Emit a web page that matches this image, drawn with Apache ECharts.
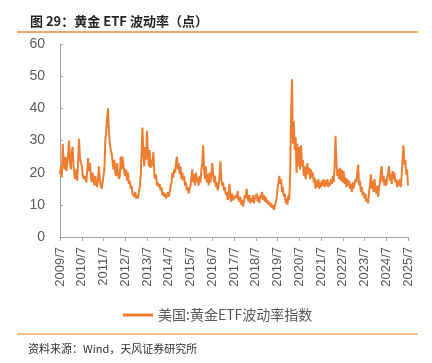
<!DOCTYPE html>
<html>
<head>
<meta charset="utf-8">
<script src="https://cdn.jsdelivr.net/npm/echarts@6/dist/echarts.min.js"></script>
<style>
html,body{margin:0;padding:0;background:#fff;}
#c{width:432px;height:363px;}
</style>
</head>
<body>
<div id="c"></div>
<script>
// Semi-monthly readings (1st and 16th), each array runs July -> June of next year
const v2009 = [19.5, 22, 18.5, 29, 23, 21, 25, 20.5, 22.5, 26, 30, 23.5, 21, 26.5, 28, 22, 19, 18, 21, 17.5, 23, 30.5, 24.5, 25];
const v2010 = [22, 19.5, 18, 17.5, 19, 17, 20.5, 24.5, 20.5, 23, 19, 17, 20, 18, 16, 19, 17, 15.5, 18, 22, 17.5, 16, 15, 17];
const v2011 = [16.5, 21, 30, 33, 37, 40, 33, 29, 27, 26, 23.5, 21, 24, 20, 19, 23, 19.5, 18, 19, 25, 21, 25, 22, 20];
const v2012 = [19, 21, 17.5, 20, 16.5, 17.5, 15, 16, 13.5, 13, 12.5, 14, 12, 13, 12, 14, 15.5, 19, 26, 34, 26, 22, 28, 24];
const v2013 = [33, 26, 22, 27, 21.5, 24, 22, 26.5, 20, 18, 19.5, 16, 17, 15.5, 16.5, 14.5, 15.5, 13, 14, 12.5, 13.5, 12, 13, 14];
const v2014 = [12.5, 14, 15.5, 17, 20, 18.5, 21, 20, 23, 25, 21, 23, 19.5, 22, 18, 20, 17.5, 19, 16, 17, 14.5, 15.5, 13.5, 15];
const v2015 = [16, 18.5, 21, 17, 19.5, 16, 20, 17, 18.5, 16, 19, 17, 21, 23, 28.5, 21, 18, 22, 17, 19.5, 16, 20, 17, 19];
const v2016 = [23, 20, 17, 19, 15.5, 17, 14.5, 16, 19, 23.5, 18, 16, 17, 14.5, 15.5, 13, 14, 11.5, 13, 16.5, 12, 11, 13.5, 11.5];
const v2017 = [12, 11, 13, 12, 14.3, 12, 11, 12.5, 10, 11.5, 9.5, 11, 13, 12, 15, 12.5, 11, 13, 10.5, 12, 11, 13, 10.5, 12];
const v2018 = [12, 13.5, 11, 12.5, 10.5, 13, 12, 14, 11.5, 13, 11, 12.5, 10.5, 11.5, 10, 11, 9.5, 10.5, 9, 10, 8.5, 9.5, 9, 12];
const v2019 = [15, 17, 19, 16.5, 18, 14, 15.5, 12.5, 13.5, 10.5, 12, 10, 13, 11.5, 20, 38, 49, 29, 36, 27, 31, 20, 29, 22];
const v2020 = [28, 21, 28.5, 22, 24, 19, 22, 18, 20.5, 23, 19.5, 21.5, 18, 21, 18.5, 20, 17, 18.5, 15, 17.5, 15.5, 18, 15, 17];
const v2021 = [15.5, 17.5, 16, 18, 15.5, 17.5, 16, 18, 15.5, 17, 16, 18, 16.5, 19, 17, 22, 31.5, 23, 19, 21, 18, 21.5, 17.5, 21];
const v2022 = [17, 20.5, 16.5, 18.5, 15.5, 18, 16, 17.5, 15, 16.5, 14, 17, 15, 16.5, 18, 17, 20, 22.5, 16, 17.5, 14, 15.5, 13, 14];
const v2023 = [12, 13.5, 11, 12, 10.5, 14, 16, 19.5, 15, 17.5, 14, 18, 15, 13.5, 16, 12.5, 15, 17, 20, 22, 17, 19, 16, 18];
const v2024 = [16, 18.5, 20, 22, 17.5, 19.5, 16.5, 20.5, 18, 20, 17, 18, 15.5, 17.5, 16, 18, 15.5, 19, 24, 28.5, 22.5, 24, 19.5, 21, 16];

const startYears = [2009, 2010, 2011, 2012, 2013, 2014, 2015, 2016, 2017, 2018, 2019, 2020, 2021, 2022, 2023, 2024];
const seriesName = '美国:黄金ETF波动率指数';

const values = [].concat(v2009, v2010, v2011, v2012, v2013, v2014, v2015, v2016,
  v2017, v2018, v2019, v2020, v2021, v2022, v2023, v2024);

const categories = [];
startYears.forEach(function (y) {
  for (let m = 7; m <= 18; m++) {
    const yy = m > 12 ? y + 1 : y;
    const mm = m > 12 ? m - 12 : m;
    categories.push(yy + '/' + mm + '/1');
    categories.push(yy + '/' + mm + '/16');
  }
});
categories.push('2025/7/1');

const chart = echarts.init(document.getElementById('c'), null, {renderer: 'canvas'});
const latin = '"Liberation Sans", "Noto Sans CJK SC", sans-serif';
const cjk = '"Noto Sans CJK SC", sans-serif';
chart.setOption({
  animation: false,
  backgroundColor: '#fff',
  title: {
    text: '图 29：黄金 ETF 波动率（点）',
    left: 25, top: 10,
    textStyle: {fontSize: 13, fontWeight: 'bold', color: '#262626', fontFamily: cjk}
  },
  legend: {
    data: [seriesName],
    left: 118, top: 303,
    icon: 'rect', itemWidth: 30, itemHeight: 3,
    textStyle: {fontSize: 14, color: '#595959', fontFamily: cjk}
  },
  grid: {left: 60, right: 24, top: 44, bottom: 126, containLabel: false},
  xAxis: {
    type: 'category',
    data: categories,
    boundaryGap: false,
    axisLine: {lineStyle: {color: '#A6A6A6', width: 1}},
    axisTick: {interval: 23, length: 4, lineStyle: {color: '#A6A6A6'}},
    axisLabel: {
      interval: 23, rotate: 90, fontSize: 13, color: '#595959', margin: 10,
      fontFamily: latin,
      formatter: function (v) { return v.replace(/\/\d+$/, ''); }
    },
    splitLine: {show: false}
  },
  yAxis: {
    type: 'value', min: 0, max: 60, interval: 10,
    axisLine: {show: true, lineStyle: {color: '#A6A6A6', width: 1}},
    axisTick: {show: true, inside: true, length: 3, lineStyle: {color: '#A6A6A6'}},
    axisLabel: {fontSize: 14, color: '#595959', margin: 15, fontFamily: latin},
    splitLine: {show: false}
  },
  series: [{
    name: seriesName,
    type: 'line',
    data: values,
    showSymbol: false,
    symbol: 'none',
    color: '#ED7D31',
    lineStyle: {color: '#ED7D31', width: 2}
  }],
  graphic: [
    {type: 'line', shape: {x1: 17, y1: 32, x2: 418, y2: 32}, style: {stroke: '#F28A2E', lineWidth: 1.5}},
    {type: 'line', shape: {x1: 17, y1: 334, x2: 418, y2: 334}, style: {stroke: '#F6A766', lineWidth: 1.5}},
    {type: 'text', left: 28, top: 343, style: {text: '资料来源：Wind，天风证券研究所', fontSize: 11, fill: '#333', fontFamily: cjk}}
  ]
});
</script>
</body>
</html>
